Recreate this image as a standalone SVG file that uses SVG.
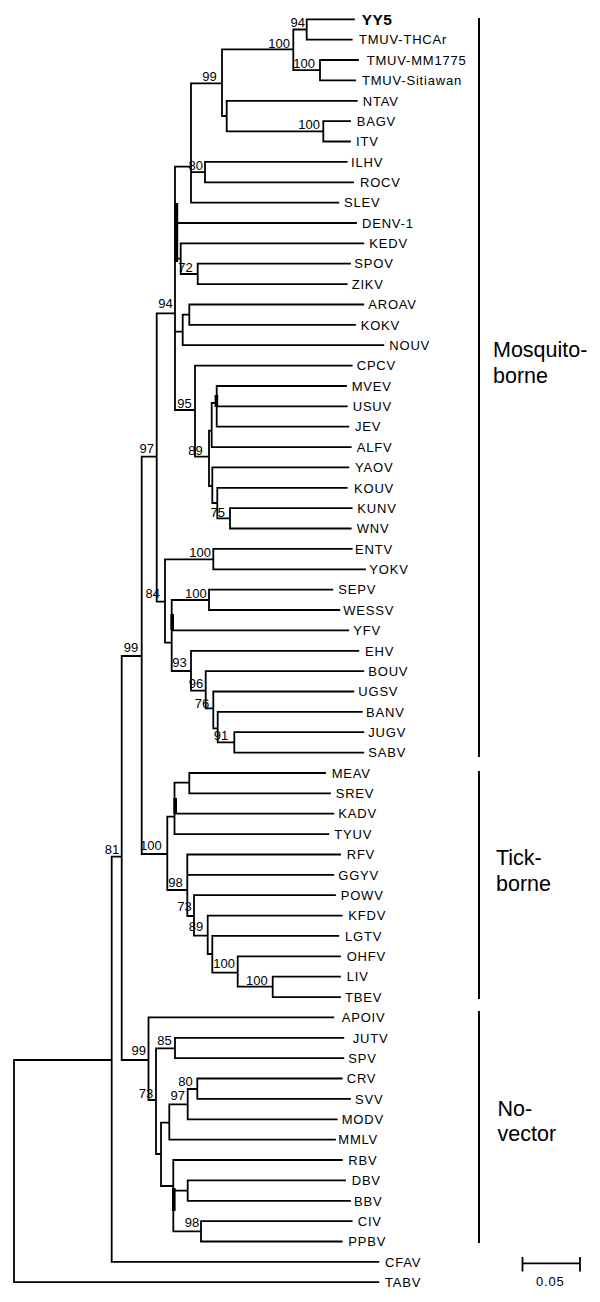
<svg xmlns="http://www.w3.org/2000/svg" width="600" height="1302" viewBox="0 0 600 1302">
<style>
.br{stroke:#000;stroke-width:1.8;fill:none;stroke-linecap:square}
.tk{stroke:#000;stroke-width:3.6;fill:none}
.bar{stroke:#000;stroke-width:2;fill:none}
text{font-family:"Liberation Sans",Arial,sans-serif;fill:#000}
.lf{font-size:13px;letter-spacing:0.8px}
.yy{font-size:15.5px;font-weight:bold;letter-spacing:0.5px}
.bs{font-size:13px;text-anchor:end}
.cl{font-size:21.5px}
.sc{font-size:13px;letter-spacing:0.8px}
</style>
<rect width="600" height="1302" fill="#fff"/>
<g id="connectors">
<path class="br" d="
M306.7 19.3 H354 M306.7 39.7 H351.7 M320 60 H358 M320 80.4 H355 M226.7 100.8 H356.7 M323.3 121.2 H350 M323.3 141.5 H350
M205 161.9 H346.7 M205 182.3 H353 M191 202.6 H338.3 M175 223 H356 M180.7 243.4 H363.3 M197.7 263.7 H350 M197.7 284.1 H346.7
M189.3 304.5 H363.3 M189.3 324.9 H355 M182.7 345.2 H383.3 M195 365.6 H351.7 M216.7 386 H346 M216.7 406.3 H346.7 M216.7 426.7 H348.3
M211.7 447.1 H350.7 M212.3 467.4 H348.3 M217.3 487.8 H346.7 M230 508.2 H351.7 M230 528.5 H350.7 M213.3 548.9 H351.7 M213.3 569.3 H365
M209 589.7 H332.3 M209 610 H339.3 M171.7 630.4 H348.3 M191 650.8 H358.3 M205.7 671.1 H363.3 M213.3 691.5 H353.3 M217.7 711.9 H361.7
M234.3 732.2 H363.3 M234.3 752.6 H363.3 M189.3 773 H325 M189.3 793.4 H330 M174.5 813.7 H333.3 M174.5 834.1 H328.3 M187.3 854.5 H340
M187.3 874.8 H333.3 M194 895.2 H335 M207.7 915.6 H341.7 M212.3 935.9 H338.3 M237.7 956.3 H340 M272.7 976.7 H340 M272.7 997.1 H340
M148.5 1017.4 H333.3 M175 1037.8 H343.3 M175 1058.2 H343.3 M197.3 1078.5 H341.7 M197.3 1098.9 H350 M187.7 1119.3 H336.7 M169.3 1139.6 H335
M173.3 1160 H341.7 M187.7 1180.4 H345 M187.7 1200.8 H350 M201 1221.1 H351.7 M201 1241.5 H341.7 M111.7 1261.9 H378.3 M14 1282.2 H378.3
M293.3 29.5 H306.7 M293.3 70.2 H320 M222 49.3 H293.3 M226.7 131.3 H323.3 M222 116 H226.7 M191 83.3 H222 M191 172.1 H205 M175 166.7 H191
M175 258.7 H180.7 M180.7 274 H197.7 M182.7 314.7 H189.3 M175 331.7 H182.7 M175 410 H195 M156.7 313.3 H175 M211.7 403 H216.7 M209 430.7 H211.7
M217.3 518.3 H230 M212.3 503 H217.3 M209 486 H212.3 M195 456.7 H209 M165 559.3 H213.3 M171.7 600 H209 M217.7 742.4 H234.3 M213.3 728.3 H217.7
M205.7 708.3 H213.3 M191 690.7 H205.7 M171.7 671 H191 M165 642.7 H171.7 M156.7 601.7 H165 M141.7 456.7 H156.7 M174.5 782.7 H189.3 M167.3 816.7 H174.5
M237.7 986.7 H272.7 M212.3 972.7 H237.7 M207.7 954 H212.3 M194 935.7 H207.7 M187.3 916 H194 M167.3 890 H187.3 M141.7 854 H167.3 M121.7 656 H141.7
M156 1048.3 H175 M187.7 1089 H197.3 M169.3 1104.3 H187.7 M161 1122.7 H169.3 M173.3 1190.7 H187.7 M173.3 1231.3 H201 M161 1186 H173.3 M156 1154 H161
M148.5 1100 H156 M121.7 1060 H148.5 M111.7 856.7 H121.7 M14 1060 H111.7
M306.7 19.3 V39.7 M320 60 V80.4 M293.3 29.5 V70.2 M323.3 121.2 V141.5 M226.7 100.8 V131.3 M222 49.3 V116 M205 161.9 V182.3 M191 83.3 V202.6
M175 166.7 V410 M180.7 243.4 V274 M197.7 263.7 V284.1 M189.3 304.5 V324.9 M182.7 314.7 V345.2 M195 365.6 V456.7 M216.7 386 V426.7 M211.7 403 V447.1
M209 430.7 V486 M230 508.2 V528.5 M217.3 487.8 V518.3 M212.3 467.4 V503 M213.3 548.9 V569.3 M209 589.7 V610 M234.3 732.2 V752.6 M217.7 711.9 V742.4
M213.3 691.5 V728.3 M205.7 671.1 V708.3 M191 650.8 V690.7 M171.7 600 V671 M165 559.3 V642.7 M156.7 313.3 V601.7 M189.3 773 V793.4 M174.5 782.7 V834.1
M272.7 976.7 V997.1 M237.7 956.3 V986.7 M212.3 935.9 V972.7 M207.7 915.6 V954 M194 895.2 V935.7 M187.3 854.5 V916 M167.3 816.7 V890 M141.7 456.7 V854
M175 1037.8 V1058.2 M197.3 1078.5 V1098.9 M187.7 1089 V1119.3 M169.3 1104.3 V1139.6 M187.7 1180.4 V1200.8 M201 1221.1 V1241.5 M173.3 1160 V1231.3
M161 1122.7 V1186 M156 1048.3 V1154 M148.5 1017.4 V1100 M121.7 656 V1060 M111.7 856.7 V1261.9 M14 1060 V1282.2"/>
<path class="tk" d="M176.4 203 V262 M216.4 395 V407 M172.2 614 V630 M175.2 798 V814 M173.8 1188 V1211"/>
</g>
<g id="bootstrap">
<text class="bs" x="305" y="27">94</text>
<text class="bs" x="290" y="47.5">100</text>
<text class="bs" x="315" y="68">100</text>
<text class="bs" x="216.7" y="80.5">99</text>
<text class="bs" x="320" y="129">100</text>
<text class="bs" x="203" y="170">80</text>
<text class="bs" x="192.7" y="271.5">72</text>
<text class="bs" x="172.7" y="308">94</text>
<text class="bs" x="191.7" y="408">95</text>
<text class="bs" x="154" y="453">97</text>
<text class="bs" x="202.7" y="455">89</text>
<text class="bs" x="225" y="516.5">75</text>
<text class="bs" x="211" y="556.5">100</text>
<text class="bs" x="160" y="598">84</text>
<text class="bs" x="206.7" y="597.5">100</text>
<text class="bs" x="138.3" y="652">99</text>
<text class="bs" x="186.7" y="666.5">93</text>
<text class="bs" x="203.3" y="687.5">96</text>
<text class="bs" x="209.3" y="707.5">76</text>
<text class="bs" x="228.3" y="739.5">91</text>
<text class="bs" x="161.7" y="850">100</text>
<text class="bs" x="119.3" y="854">81</text>
<text class="bs" x="182.7" y="886.5">98</text>
<text class="bs" x="191.7" y="910.5">73</text>
<text class="bs" x="203.3" y="931">89</text>
<text class="bs" x="235" y="968">100</text>
<text class="bs" x="267.7" y="984.5">100</text>
<text class="bs" x="171.7" y="1045">85</text>
<text class="bs" x="146" y="1055">99</text>
<text class="bs" x="192.7" y="1086">80</text>
<text class="bs" x="185" y="1100">97</text>
<text class="bs" x="153.3" y="1098">73</text>
<text class="bs" x="199.3" y="1227">98</text>
</g>
<g id="leaves">
<g id="n-YY5"><text class="yy" x="361.7" y="24.8">YY5</text></g>
<g id="n-TMUV-THCAr"><text class="lf" x="359" y="44.4">TMUV-THCAr</text></g>
<g id="n-TMUV-MM1775"><text class="lf" x="366.7" y="64.7">TMUV-MM1775</text></g>
<g id="n-TMUV-Sitiawan"><text class="lf" x="362" y="85.1">TMUV-Sitiawan</text></g>
<g id="n-NTAV"><text class="lf" x="362.7" y="105.5">NTAV</text></g>
<g id="n-BAGV"><text class="lf" x="356.7" y="125.9">BAGV</text></g>
<g id="n-ITV"><text class="lf" x="356" y="146.2">ITV</text></g>
<g id="n-ILHV"><text class="lf" x="351" y="166.6">ILHV</text></g>
<g id="n-ROCV"><text class="lf" x="360" y="187">ROCV</text></g>
<g id="n-SLEV"><text class="lf" x="344" y="207.3">SLEV</text></g>
<g id="n-DENV-1"><text class="lf" x="362" y="227.7">DENV-1</text></g>
<g id="n-KEDV"><text class="lf" x="369.3" y="248.1">KEDV</text></g>
<g id="n-SPOV"><text class="lf" x="354.3" y="268.4">SPOV</text></g>
<g id="n-ZIKV"><text class="lf" x="351.7" y="288.8">ZIKV</text></g>
<g id="n-AROAV"><text class="lf" x="368.3" y="309.2">AROAV</text></g>
<g id="n-KOKV"><text class="lf" x="360.7" y="329.6">KOKV</text></g>
<g id="n-NOUV"><text class="lf" x="389.3" y="349.9">NOUV</text></g>
<g id="n-CPCV"><text class="lf" x="356.7" y="370.3">CPCV</text></g>
<g id="n-MVEV"><text class="lf" x="351.7" y="390.7">MVEV</text></g>
<g id="n-USUV"><text class="lf" x="352.7" y="411">USUV</text></g>
<g id="n-JEV"><text class="lf" x="355" y="431.4">JEV</text></g>
<g id="n-ALFV"><text class="lf" x="356.7" y="451.8">ALFV</text></g>
<g id="n-YAOV"><text class="lf" x="355" y="472.1">YAOV</text></g>
<g id="n-KOUV"><text class="lf" x="354" y="492.5">KOUV</text></g>
<g id="n-KUNV"><text class="lf" x="357.3" y="512.9">KUNV</text></g>
<g id="n-WNV"><text class="lf" x="356.7" y="533.2">WNV</text></g>
<g id="n-ENTV"><text class="lf" x="355" y="553.6">ENTV</text></g>
<g id="n-YOKV"><text class="lf" x="369.3" y="574">YOKV</text></g>
<g id="n-SEPV"><text class="lf" x="338.3" y="594.4">SEPV</text></g>
<g id="n-WESSV"><text class="lf" x="343.3" y="614.7">WESSV</text></g>
<g id="n-YFV"><text class="lf" x="353.3" y="635.1">YFV</text></g>
<g id="n-EHV"><text class="lf" x="365" y="655.5">EHV</text></g>
<g id="n-BOUV"><text class="lf" x="368.3" y="675.8">BOUV</text></g>
<g id="n-UGSV"><text class="lf" x="358.3" y="696.2">UGSV</text></g>
<g id="n-BANV"><text class="lf" x="366" y="716.6">BANV</text></g>
<g id="n-JUGV"><text class="lf" x="368.3" y="736.9">JUGV</text></g>
<g id="n-SABV"><text class="lf" x="368.3" y="757.3">SABV</text></g>
<g id="n-MEAV"><text class="lf" x="331.7" y="777.7">MEAV</text></g>
<g id="n-SREV"><text class="lf" x="335.7" y="798.1">SREV</text></g>
<g id="n-KADV"><text class="lf" x="338.3" y="818.4">KADV</text></g>
<g id="n-TYUV"><text class="lf" x="334.3" y="838.8">TYUV</text></g>
<g id="n-RFV"><text class="lf" x="346.7" y="859.2">RFV</text></g>
<g id="n-GGYV"><text class="lf" x="338.3" y="879.5">GGYV</text></g>
<g id="n-POWV"><text class="lf" x="340.7" y="899.9">POWV</text></g>
<g id="n-KFDV"><text class="lf" x="348.3" y="920.3">KFDV</text></g>
<g id="n-LGTV"><text class="lf" x="345" y="940.6">LGTV</text></g>
<g id="n-OHFV"><text class="lf" x="346.7" y="961">OHFV</text></g>
<g id="n-LIV"><text class="lf" x="346.7" y="981.4">LIV</text></g>
<g id="n-TBEV"><text class="lf" x="345" y="1001.8">TBEV</text></g>
<g id="n-APOIV"><text class="lf" x="341.7" y="1022.1">APOIV</text></g>
<g id="n-JUTV"><text class="lf" x="352.7" y="1042.5">JUTV</text></g>
<g id="n-SPV"><text class="lf" x="348.3" y="1062.9">SPV</text></g>
<g id="n-CRV"><text class="lf" x="346.7" y="1083.2">CRV</text></g>
<g id="n-SVV"><text class="lf" x="355" y="1103.6">SVV</text></g>
<g id="n-MODV"><text class="lf" x="341.7" y="1124">MODV</text></g>
<g id="n-MMLV"><text class="lf" x="338.3" y="1144.3">MMLV</text></g>
<g id="n-RBV"><text class="lf" x="348.3" y="1164.7">RBV</text></g>
<g id="n-DBV"><text class="lf" x="351.7" y="1185.1">DBV</text></g>
<g id="n-BBV"><text class="lf" x="354" y="1205.5">BBV</text></g>
<g id="n-CIV"><text class="lf" x="357.7" y="1225.8">CIV</text></g>
<g id="n-PPBV"><text class="lf" x="348.3" y="1246.2">PPBV</text></g>
<g id="n-CFAV"><text class="lf" x="385" y="1266.6">CFAV</text></g>
<g id="n-TABV"><text class="lf" x="385" y="1286.9">TABV</text></g>
</g>
<g id="clades">
<path class="bar" d="M479 18 V757 M479 771 V999 M479 1011 V1243"/>
<text class="cl" x="493" y="356.5">Mosquito-</text>
<text class="cl" x="493" y="382.5">borne</text>
<text class="cl" x="496" y="865">Tick-</text>
<text class="cl" x="496" y="891">borne</text>
<text class="cl" x="497.5" y="1115.5">No-</text>
<text class="cl" x="497.5" y="1141">vector</text>
</g>
<g id="scale">
<path class="br" d="M522.5 1263.3 H580 M522.5 1258 V1270.5 M580 1258 V1270.5"/>
<text class="sc" x="536" y="1286">0.05</text>
</g>
</svg>
